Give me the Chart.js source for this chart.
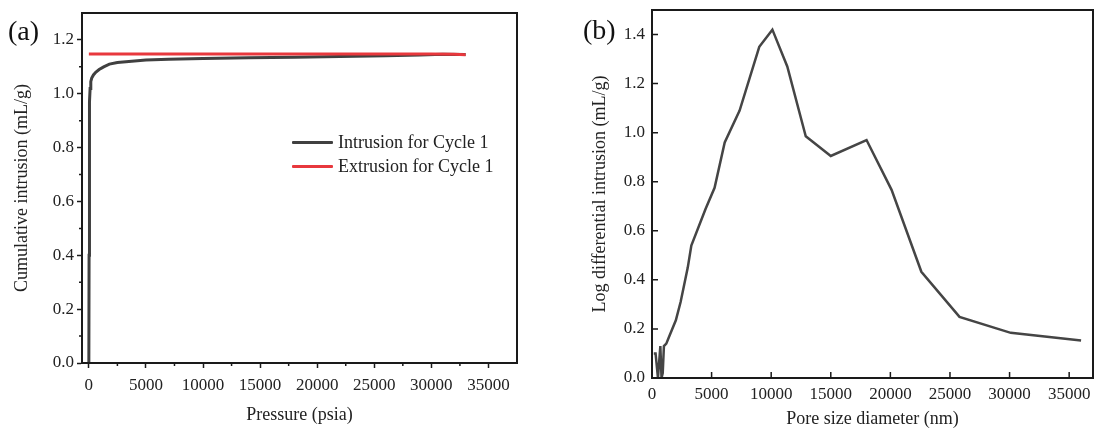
<!DOCTYPE html>
<html>
<head>
<meta charset="utf-8">
<script src="https://cdn.jsdelivr.net/npm/chart.js@4.4.1/dist/chart.umd.min.js"></script>
<style>
  body { margin: 0; background: #fff; font-family: 'Liberation Serif', 'Times New Roman', serif; }
  #wrap { position: relative; width: 1096px; height: 428px; }
  .panel { position: absolute; top: 0; height: 428px; }
  .tag { position: absolute; font-size: 28px; line-height: 1; color: #111; }
  #legend { position: absolute; left: 292px; top: 130px; font-size: 18px; color: #222; }
  .item { display: flex; align-items: center; height: 24px; white-space: nowrap; }
  .swatch { width: 41px; height: 3px; margin-right: 5px; border-radius: 1px; }
</style>
</head>
<body>
<div id="wrap">
  <div class="panel" style="left:0;width:540px"><canvas id="chartA"></canvas></div>
  <div class="panel" style="left:548px;width:548px"><canvas id="chartB"></canvas></div>
  <div class="tag" style="left:8px;top:17px">(a)</div>
  <div class="tag" style="left:583px;top:16px">(b)</div>
  <div id="legend"></div>
</div>
<script>
// (a) mercury intrusion / extrusion, Cycle 1
const pressure = [0, 20, 40, 70, 110, 170, 250, 400, 600, 900, 1300, 1800, 2500, 3500, 5000, 7000, 10000, 14000, 18000, 22000, 26000, 29000, 31000, 33000];
const intrusion = [0, 0.4, 0.8, 0.97, 1.02, 1.045, 1.058, 1.07, 1.08, 1.09, 1.10, 1.11, 1.116, 1.12, 1.125, 1.128, 1.131, 1.134, 1.136, 1.138, 1.141, 1.144, 1.147, 1.146];
const extrusionPressure = [0, 5000, 10000, 15000, 20000, 25000, 30000, 32000, 33000];
const extrusion = [1.148, 1.148, 1.148, 1.148, 1.148, 1.148, 1.148, 1.147, 1.145];

// (b) log differential intrusion vs pore size
const poreSize = [150, 300, 500, 700, 800, 900, 1000, 1200, 1450, 1700, 2000, 2400, 2700, 3000, 3300, 4500, 5250, 6100, 7350, 9000, 10100, 11350, 12900, 15000, 18000, 20100, 22600, 25800, 30100, 36000];
const logDiff = [0.10, 0.10, 0.0, 0.13, 0.0, 0.02, 0.13, 0.14, 0.17, 0.20, 0.235, 0.31, 0.38, 0.45, 0.54, 0.69, 0.775, 0.96, 1.09, 1.35, 1.42, 1.27, 0.985, 0.905, 0.97, 0.767, 0.433, 0.249, 0.184, 0.153];

// tick labels / positions
const xTicks = [0, 5000, 10000, 15000, 20000, 25000, 30000, 35000];
const yTicksA = [0, 0.2, 0.4, 0.6, 0.8, 1.0, 1.2];
const yTicksB = [0, 0.2, 0.4, 0.6, 0.8, 1.0, 1.2, 1.4];
const minorXA = [2500, 7500, 12500, 17500, 22500, 27500, 32500];
const minorYA = [0.1, 0.3, 0.5, 0.7, 0.9, 1.1];

const axisColor = '#1a1a1a';
const textColor = '#222';
const serif = "'Liberation Serif', 'Times New Roman', serif";

// box frame plus extra tick marks (minor ticks on a, inward ticks on b)
const framePlugin = {
  id: 'frame',
  afterDraw(chart, args, opts) {
    const { ctx, chartArea: a, scales } = chart;
    ctx.save();
    ctx.strokeStyle = axisColor;
    ctx.lineWidth = 2;
    ctx.strokeRect(a.left, a.top, a.right - a.left, a.bottom - a.top);
    ctx.lineWidth = 1.5;
    ctx.beginPath();
    (opts.xMarks || []).forEach(v => {
      const px = scales.x.getPixelForValue(v);
      ctx.moveTo(px, a.bottom);
      ctx.lineTo(px, a.bottom + opts.len);
    });
    (opts.yMarks || []).forEach(v => {
      const py = scales.y.getPixelForValue(v);
      ctx.moveTo(a.left, py);
      ctx.lineTo(a.left - opts.len, py);
    });
    ctx.stroke();
    ctx.restore();
  }
};

function pts(xs, ys) {
  return xs.map((x, i) => ({ x: x, y: ys[i] }));
}

function fixTicks(values) {
  return s => { s.ticks = values.map(v => ({ value: v })); };
}

// fixed axis size, and no extra room reserved for edge labels
function fitY(w) {
  return s => { s.width = w; s.paddingTop = 0; s.paddingBottom = 0; };
}
function fitX(h) {
  return s => { s.height = h; s.paddingLeft = 0; s.paddingRight = 0; };
}

const tickFont = { family: serif, size: 17 };
const titleFont = { family: serif, size: 18 };

// ---------- chart (a)
const chartA = new Chart(document.getElementById('chartA'), {
  type: 'line',
  data: {
    datasets: [
      {
        label: 'Intrusion for Cycle 1',
        data: pts(pressure, intrusion),
        borderColor: '#404040',
        borderWidth: 3,
        pointRadius: 0,
        tension: 0,
        order: 1
      },
      {
        label: 'Extrusion for Cycle 1',
        data: pts(extrusionPressure, extrusion),
        borderColor: '#e8383d',
        borderWidth: 3,
        pointRadius: 0,
        tension: 0,
        order: 0
      }
    ]
  },
  plugins: [framePlugin],
  options: {
    responsive: true,
    maintainAspectRatio: false,
    animation: false,
    layout: { padding: { left: 7, top: 13, right: 23, bottom: 0 } },
    plugins: {
      legend: { display: false },
      tooltip: { enabled: false },
      frame: { xMarks: minorXA, yMarks: minorYA, len: 3 }
    },
    scales: {
      x: {
        type: 'linear',
        min: -600,
        max: 37500,
        bounds: 'data',
        afterBuildTicks: fixTicks(xTicks),
        afterFit: fitX(65),
        grid: { display: true, drawOnChartArea: false, tickLength: 5, tickWidth: 1.5, tickColor: axisColor },
        border: { display: true, color: axisColor, width: 2 },
        ticks: { padding: 7, color: textColor, font: tickFont, maxRotation: 0, autoSkip: false, callback: v => String(v) },
        title: { display: true, text: 'Pressure (psia)', color: textColor, font: titleFont, padding: { top: 0, bottom: 2 } }
      },
      y: {
        min: 0,
        max: 1.3,
        bounds: 'data',
        afterBuildTicks: fixTicks(yTicksA),
        afterFit: fitY(75),
        grid: { display: true, drawOnChartArea: false, tickLength: 5, tickWidth: 1.5, tickColor: axisColor },
        border: { display: true, color: axisColor, width: 2 },
        ticks: { padding: 3, color: textColor, font: tickFont, autoSkip: false, callback: v => v.toFixed(1) },
        title: { display: true, text: 'Cumulative intrusion (mL/g)', color: textColor, font: titleFont, padding: { top: 4, bottom: 0 } }
      }
    }
  }
});

// html legend from the datasets of (a)
const legend = document.getElementById('legend');
chartA.data.datasets.forEach(ds => {
  const row = document.createElement('div');
  row.className = 'item';
  const sw = document.createElement('span');
  sw.className = 'swatch';
  sw.style.background = ds.borderColor;
  const tx = document.createElement('span');
  tx.textContent = ds.label;
  row.appendChild(sw);
  row.appendChild(tx);
  legend.appendChild(row);
});

// ---------- chart (b)
new Chart(document.getElementById('chartB'), {
  type: 'line',
  data: {
    datasets: [
      {
        label: 'Log differential intrusion',
        data: pts(poreSize, logDiff),
        borderColor: '#454545',
        borderWidth: 2.5,
        pointRadius: 0,
        tension: 0
      }
    ]
  },
  plugins: [framePlugin],
  options: {
    responsive: true,
    maintainAspectRatio: false,
    animation: false,
    layout: { padding: { left: 37, top: 10, right: 3, bottom: 0 } },
    plugins: {
      legend: { display: false },
      tooltip: { enabled: false },
      frame: { xMarks: xTicks.slice(1), yMarks: yTicksB.slice(1), len: -6 }
    },
    scales: {
      x: {
        type: 'linear',
        min: 0,
        max: 37000,
        bounds: 'data',
        afterBuildTicks: fixTicks(xTicks),
        afterFit: fitX(50),
        grid: { display: false, drawTicks: false },
        border: { display: true, color: axisColor, width: 2 },
        ticks: { padding: 6, color: textColor, font: tickFont, maxRotation: 0, autoSkip: false, callback: v => String(v) },
        title: { display: true, text: 'Pore size diameter (nm)', color: textColor, font: titleFont, padding: { top: 0, bottom: -2 } }
      },
      y: {
        min: 0,
        max: 1.5,
        bounds: 'data',
        afterBuildTicks: fixTicks(yTicksB),
        afterFit: fitY(67),
        grid: { display: false, drawTicks: false },
        border: { display: true, color: axisColor, width: 2 },
        ticks: { padding: 7, color: textColor, font: tickFont, autoSkip: false, callback: v => v.toFixed(1) },
        title: { display: true, text: 'Log differential intrusion (mL/g)', color: textColor, font: titleFont, padding: { top: 4, bottom: 0 } }
      }
    }
  }
});
</script>
</body>
</html>
